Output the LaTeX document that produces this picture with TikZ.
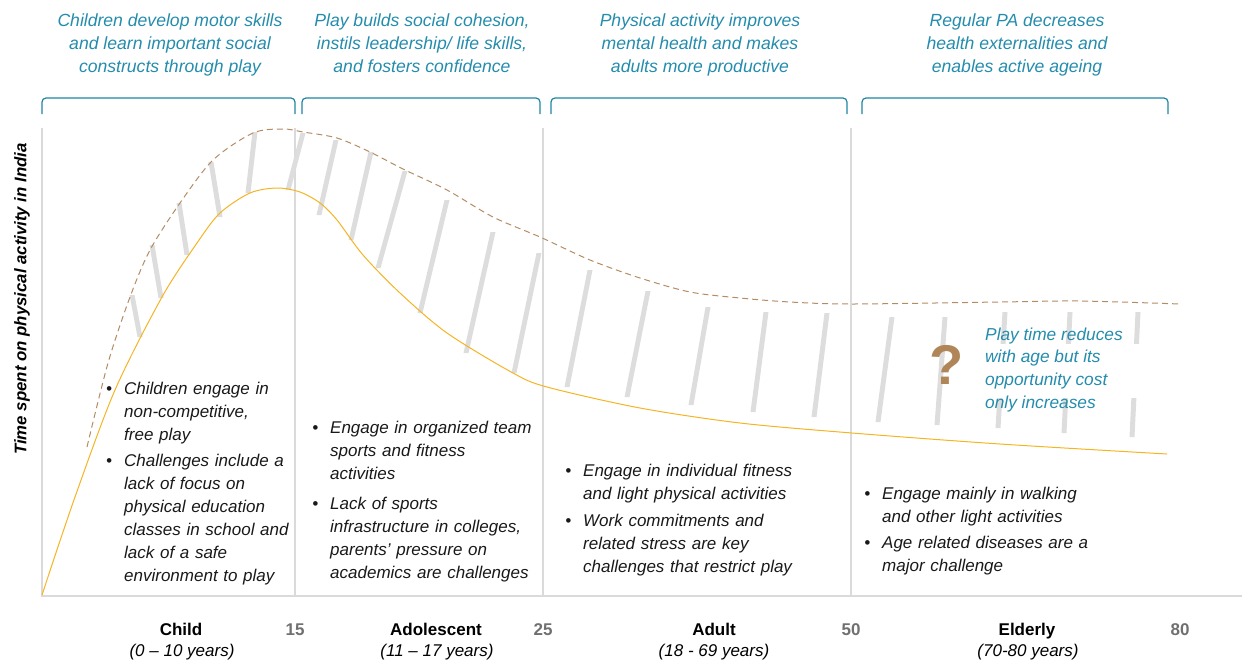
\documentclass[tikz,border=0pt]{standalone}
\usepackage{fontspec}
\usepackage{xcolor}
\setmainfont{Liberation Sans}
\definecolor{tealtext}{RGB}{36,140,172}
\definecolor{tealline}{RGB}{30,132,163}
\definecolor{curveorange}{RGB}{245,180,35}
\definecolor{curvebrown}{RGB}{180,140,100}
\definecolor{qbrown}{RGB}{176,134,88}
\definecolor{barfill}{RGB}{221,221,221}
\definecolor{axisgray}{RGB}{218,218,218}
\definecolor{numgray}{RGB}{112,112,112}
\newcommand\pitem{\ifvmode\noindent\fi\llap{\textbullet\hspace{12pt}}}

\begin{document}
\begin{tikzpicture}[x=1pt,y=-1pt,
  head/.style={anchor=north,inner sep=0pt,align=center,text=tealtext,font=\fontsize{17.6}{23}\selectfont\itshape},
  bullets/.style={anchor=north west,inner sep=0pt,text width=240pt,text=black!90,font=\fontsize{17}{23}\selectfont\itshape,
    execute at begin node={\parindent=0pt\leftskip=18pt\parskip=#1}},
  stage/.style={anchor=base,inner sep=0pt,font=\fontsize{17}{20}\selectfont\bfseries},
  years/.style={anchor=base,inner sep=0pt,font=\fontsize{17}{20}\selectfont\itshape},
  age/.style={anchor=base,inner sep=0pt,text=numgray,font=\fontsize{17}{20}\selectfont\bfseries},
  bracket/.style={tealline,line width=1.2pt,rounded corners=4pt},
  divider/.style={axisgray,line width=1.2pt}]
\useasboundingbox (0,0) rectangle (1242,662);
\draw[divider] (42,128) -- (42,596) -- (1242,596);
\foreach \x in {295,543,851} \draw[divider] (\x,128) -- (\x,596);
\draw[bracket] (42,114) -- (42,98) -- (295,98) -- (295,114);
\draw[bracket] (302,114) -- (302,98) -- (540,98) -- (540,114);
\draw[bracket] (551,114) -- (551,98) -- (847,98) -- (847,114);
\draw[bracket] (862,114) -- (862,98) -- (1168,98) -- (1168,114);
\foreach \xa/\ya/\xb/\yb in {132/295/140/337, 152/245/161/298, 179/203/187/255, 211/162/220/217,
  255/132/248/193, 303/133/288/190, 336/140/319/215, 371/152/351/240, 405/171/378/268,
  447/200/420/313, 493/232/466/353, 539/253/514/373, 590/270/567/387, 648/291/627/397,
  708/307/691/405, 766/312/753/412, 827/313/814/417, 892/317/878/422, 945/317/937/425,
  1005/312/998/428, 1070/312/1064/433, 1138/312/1132/437}
  \fill[barfill] (\xa-2.5,\ya) -- (\xa+2.5,\ya) -- (\xb+2.5,\yb) -- (\xb-2.5,\yb) -- cycle;
\draw[curvebrown,line width=1pt,dash pattern=on 6pt off 4pt] plot[smooth,tension=0.5] coordinates {(87,447) (108,363) (130,297) (150,250) (180,203) (213,160) (253,133) (283,129) (303,132) (337,138) (370,152) (403,169) (447,190) (493,217) (540,237) (590,260) (640,278) (690,292) (740,298) (790,302) (852,304) (1000,302) (1080,301) (1180,304)};
\draw[curveorange,line width=1pt] plot[smooth,tension=0.5] coordinates {(42,595) (75,497) (115,390) (162,297) (197,243) (220,213) (250,193) (277,188) (300,192) (320,203) (337,220) (363,255) (400,293) (447,333) (513,373) (547,387) (640,408) (740,423) (852,433) (1000,444) (1167,454)};
\fill[white] (983,344) rectangle (1143,398);
\draw (947,365) node[inner sep=0pt,text=qbrown,font=\fontsize{56}{56}\selectfont\bfseries](question) {?};
\draw (985,327.5) node[anchor=north west,inner sep=0pt,align=left,text=tealtext,font=\fontsize{17.3}{22.7}\selectfont\itshape](playtime) {Play time reduces\\with age but its\\opportunity cost\\only increases};
\draw (170,14) node[head](headchild) {Children develop motor skills\\and learn important social\\constructs through play};
\draw (422,14) node[head](headteen) {Play builds social cohesion,\\instils leadership/ life skills,\\and fosters confidence};
\draw (700,14) node[head](headadult) {Physical activity improves\\mental health and makes\\adults more productive};
\draw (1017,14) node[head](headelder) {Regular PA decreases\\health externalities and\\enables active ageing};
\draw (22,299) node[rotate=90,inner sep=0pt,font=\fontsize{16.8}{20}\selectfont\bfseries\itshape](ylabel) {Time spent on physical activity in India};
\draw (106,382.4) node[bullets=3pt](childtext) {\pitem Children engage in\newline non-competitive,\newline free play\par\pitem Challenges include a\newline lack of focus on\newline physical education\newline classes in school and\newline lack of a safe\newline environment to play};
\draw (312,421.4) node[bullets=7pt](teentext) {\pitem Engage in organized team\newline sports and fitness\newline activities\par\pitem Lack of sports\newline infrastructure in colleges,\newline parents’ pressure on\newline academics are challenges};
\draw (565,464.4) node[bullets=4pt](adulttext) {\pitem Engage in individual fitness\newline and light physical activities\par\pitem Work commitments and\newline related stress are key\newline challenges that restrict play};
\draw (864,487.4) node[bullets=3pt](eldertext) {\pitem Engage mainly in walking\newline and other light activities\par\pitem Age related diseases are a\newline major challenge};
\draw (181,635) node[stage](child) {Child};
\draw (182,656) node[years](childyears) {(0 – 10 years)};
\draw (436,635) node[stage](teen) {Adolescent};
\draw (437,656) node[years](teenyears) {(11 – 17 years)};
\draw (714,635) node[stage](adult) {Adult};
\draw (714,656) node[years](adultyears) {(18 - 69 years)};
\draw (1027,635) node[stage](elder) {Elderly};
\draw (1028,656) node[years](elderyears) {(70-80 years)};
\draw (295,635) node[age](fifteen) {15};
\draw (543,635) node[age](twentyfive) {25};
\draw (851,635) node[age](fifty) {50};
\draw (1180,635) node[age](eighty) {80};
\end{tikzpicture}
\end{document}
